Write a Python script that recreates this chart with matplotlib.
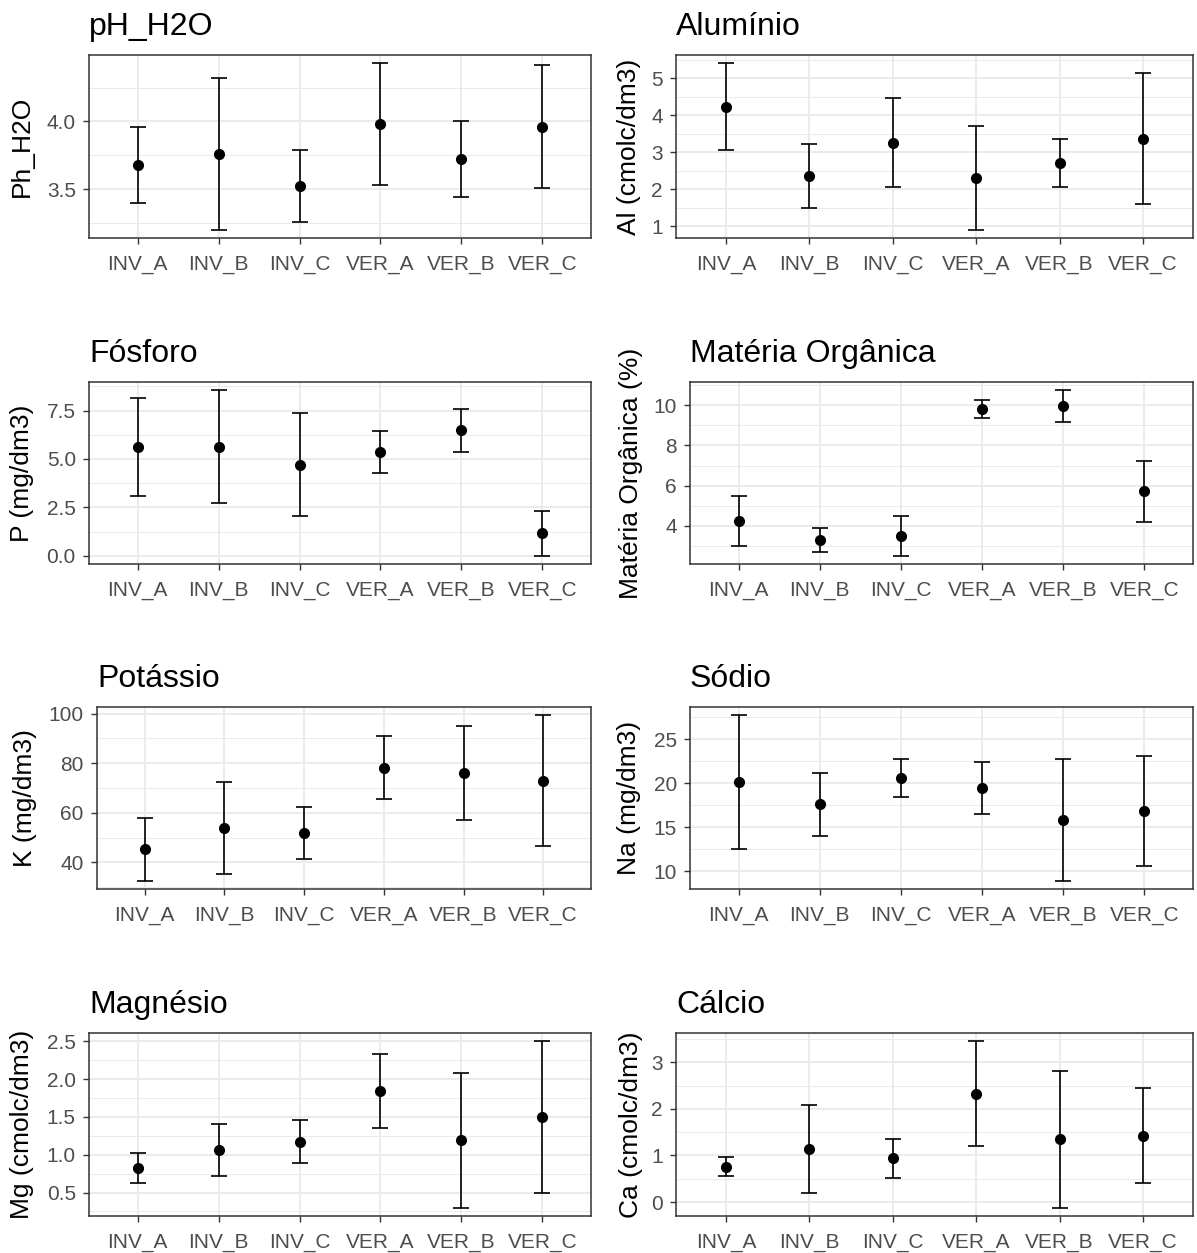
import numpy as np
import matplotlib
matplotlib.use("Agg")
import matplotlib.pyplot as plt

plt.rcParams['font.family'] = ['Liberation Sans', 'DejaVu Sans']

# ===========================
# Data (mean and sd)
# ===========================
groups = ["INV_A", "INV_B", "INV_C", "VER_A", "VER_B", "VER_C"]

ph_mean = [3.68, 3.76, 3.525, 3.98, 3.72, 3.96]
ph_sd = [0.28, 0.56, 0.265, 0.45, 0.28, 0.455]

al_mean = [4.23, 2.36, 3.26, 2.31, 2.71, 3.37]
al_sd = [1.17, 0.86, 1.20, 1.40, 0.65, 1.77]

p_mean = [5.63, 5.63, 4.71, 5.35, 6.48, 1.15]
p_sd = [2.54, 2.92, 2.68, 1.10, 1.10, 1.15]

mo_mean = [4.25, 3.30, 3.50, 9.82, 9.96, 5.72]
mo_sd = [1.26, 0.60, 0.98, 0.46, 0.78, 1.52]

k_mean = [45.3, 53.8, 52.0, 78.2, 76.0, 73.0]
k_sd = [12.7, 18.4, 10.5, 12.8, 18.8, 26.3]

na_mean = [20.1, 17.6, 20.58, 19.5, 15.82, 16.87]
na_sd = [7.6, 3.6, 2.13, 2.95, 6.88, 6.23]

mg_mean = [0.82, 1.06, 1.17, 1.845, 1.19, 1.50]
mg_sd = [0.20, 0.345, 0.285, 0.485, 0.89, 1.00]

ca_mean = [0.76, 1.14, 0.94, 2.325, 1.345, 1.425]
ca_sd = [0.20, 0.94, 0.42, 1.125, 1.465, 1.025]

titles = ["pH_H2O", "Alumínio", "Fósforo", "Matéria Orgânica",
          "Potássio", "Sódio", "Magnésio", "Cálcio"]
ylabels = ["Ph_H2O", "Al (cmolc/dm3)", "P (mg/dm3)", "Matéria Orgânica (%)",
           "K (mg/dm3)", "Na (mg/dm3)", "Mg (cmolc/dm3)", "Ca (cmolc/dm3)"]
yticks = [[3.5, 4.0], [1, 2, 3, 4, 5], [0.0, 2.5, 5.0, 7.5], [4, 6, 8, 10],
          [40, 60, 80, 100], [10, 15, 20, 25], [0.5, 1.0, 1.5, 2.0, 2.5],
          [0, 1, 2, 3]]
yfmt = ["{:.1f}", "{:.0f}", "{:.1f}", "{:.0f}", "{:.0f}", "{:.0f}", "{:.1f}", "{:.0f}"]
means = [ph_mean, al_mean, p_mean, mo_mean, k_mean, na_mean, mg_mean, ca_mean]
sds = [ph_sd, al_sd, p_sd, mo_sd, k_sd, na_sd, mg_sd, ca_sd]

# ===========================
# Layout (pixel boxes: left, right, top, bottom) and label x centres
# ===========================
W, H = 1197, 1253
boxes = [(89, 591, 55, 238), (676, 1193, 55, 238),
         (89, 591, 382, 564), (690, 1193, 382, 564),
         (97, 591, 707, 889), (690, 1193, 707, 889),
         (89, 591, 1033, 1216), (676, 1193, 1033, 1216)]
ylab_x = [22, 629, 22, 631, 25, 629, 22, 631]

GRID = "#EBEBEB"
DARK = "#333333"
TICKTXT = "#4D4D4D"

fig = plt.figure(figsize=(W / 100, H / 100), dpi=100)
fig.patch.set_facecolor("white")

x = np.arange(1, len(groups) + 1)

for i in range(8):
    l, r, t, b = boxes[i]
    ax = fig.add_axes([l / W, 1 - b / H, (r - l) / W, (b - t) / H])
    ax.errorbar(x, means[i], yerr=sds[i], fmt="o", color="black", ms=7,
                elinewidth=1.2, capsize=5.5, capthick=1.2, zorder=3)
    ax.set_xlim(0.4, 6.6)
    ax.margins(y=0.05)
    ax.autoscale_view()
    lo, hi = ax.get_ylim()

    major = yticks[i]
    step = major[1] - major[0]
    minor = [v + step / 2 for v in [major[0] - step] + major]
    minor = [v for v in minor if lo <= v <= hi]
    ax.set_yticks(major)
    ax.set_yticklabels([yfmt[i].format(v) for v in major])
    ax.set_yticks(minor, minor=True)
    ax.set_ylim(lo, hi)
    ax.set_xticks(x)
    ax.set_xticklabels(groups)

    ax.grid(True, which="major", color=GRID, lw=1.4, zorder=0)
    ax.grid(True, which="minor", axis="y", color=GRID, lw=0.7, zorder=0)
    ax.set_axisbelow(True)
    for s in ax.spines.values():
        s.set_color(DARK)
        s.set_linewidth(1.1)
    ax.tick_params(which="major", length=4.5, width=1.0, color=DARK,
                   labelsize=15, labelcolor=TICKTXT)
    ax.tick_params(axis="x", pad=8)
    ax.tick_params(axis="y", pad=5)
    ax.tick_params(which="minor", length=0)

    ax.set_ylabel(ylabels[i], fontsize=19, color="black")
    ax.yaxis.set_label_coords((ylab_x[i] - l) / (r - l), 0.5)
    ax.yaxis.label.set_va("center")

    fig.text(l / W, 1 - (t - 20) / H, titles[i], fontsize=23,
             color="black", ha="left", va="baseline")

fig.savefig("out.png", dpi=100, facecolor="white")
